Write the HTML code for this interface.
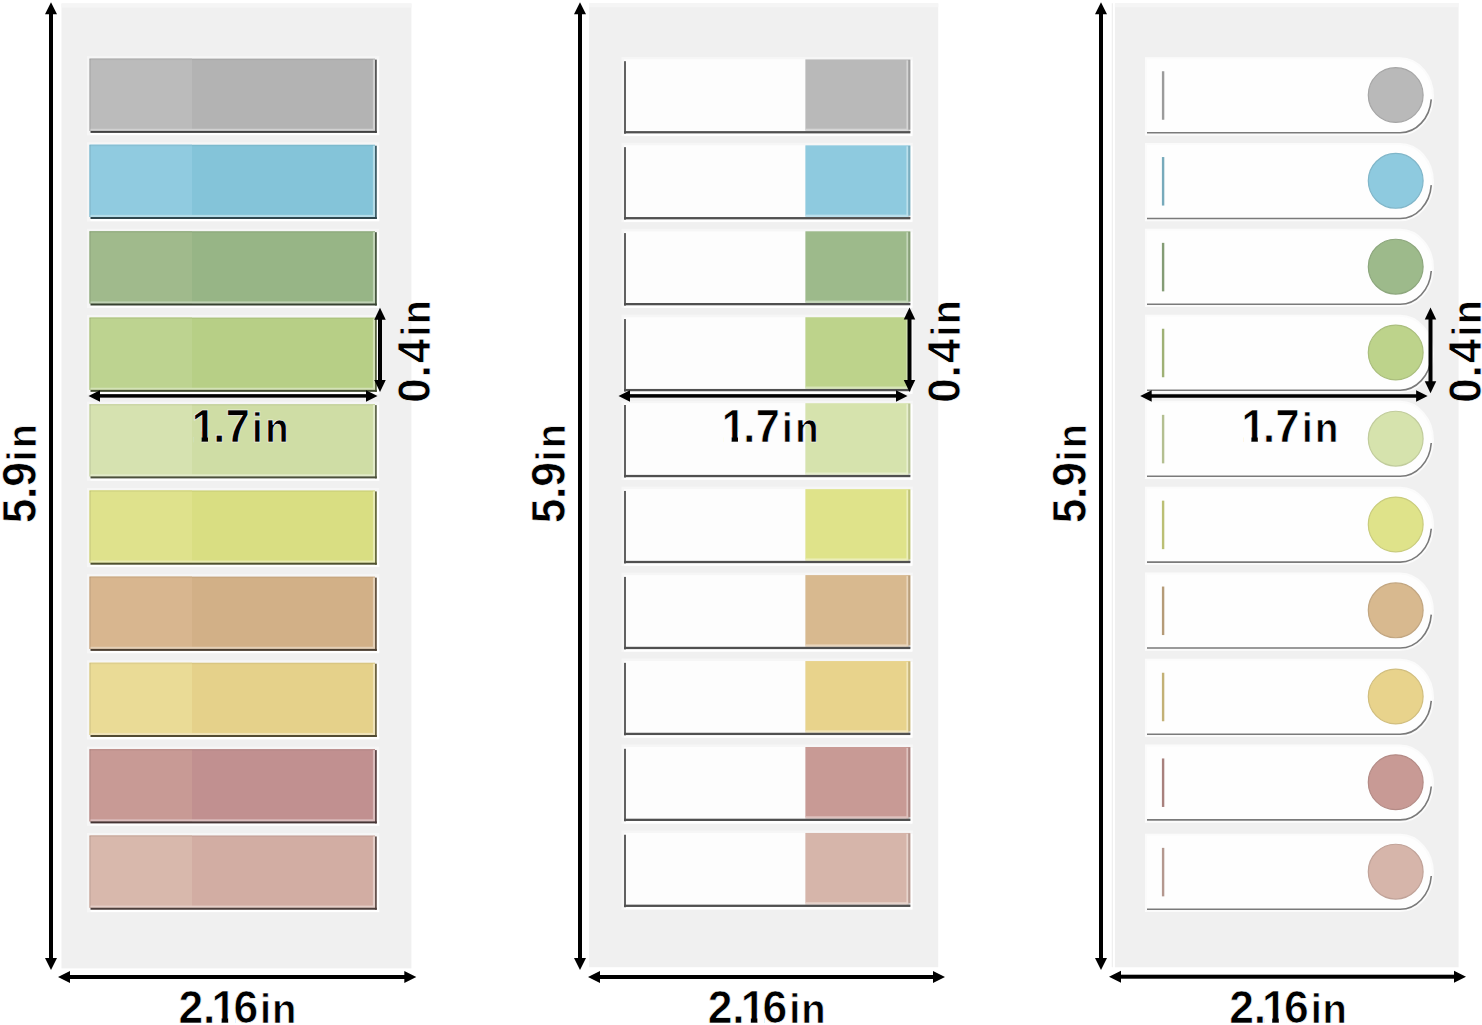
<!DOCTYPE html>
<html><head><meta charset="utf-8"><title>Sticky tabs dimensions</title>
<style>
html,body{margin:0;padding:0;background:#fff;}
body{width:1482px;height:1025px;overflow:hidden;}
svg{display:block;}
text{font-family:"Liberation Sans",Arial,sans-serif;font-weight:bold;fill:#000;stroke:#fff;stroke-width:0.7px;}
</style></head><body>
<svg width="1482" height="1025" viewBox="0 0 1482 1025">
<rect width="1482" height="1025" fill="#fff"/>

<rect x="61.5" y="3.5" width="349.90" height="964.90" fill="#f0f0f0"/>
<rect x="61.5" y="3.5" width="349.90" height="4" fill="#f5f5f5"/>
<rect x="589.0" y="3.2" width="349.20" height="964.00" fill="#f0f0f0"/>
<rect x="589.0" y="3.2" width="349.20" height="4" fill="#f5f5f5"/>
<rect x="1114.9" y="3.2" width="343.70" height="964.10" fill="#f0f0f0"/>
<rect x="1114.9" y="3.2" width="343.70" height="4" fill="#f5f5f5"/>
<rect x="1111.8" y="3.2" width="1" height="964" fill="#ebebeb"/>
<rect x="87.0" y="56.10" width="292.3" height="79.30" fill="#f6f6f6"/>
<rect x="90.5" y="131.90" width="288.8" height="3.2" fill="#fff"/>
<rect x="375.8" y="59.60" width="3.2" height="75.30" fill="#fff"/>
<rect x="89.5" y="58.60" width="285.50" height="72.30" fill="#b3b3b3"/>
<rect x="89.5" y="58.60" width="102.50" height="72.30" fill="#bbbbbb"/>
<rect x="89.5" y="58.60" width="285.50" height="1.5" fill="#000" fill-opacity="0.05"/>
<rect x="89.5" y="59.10" width="1.3" height="71.80" fill="#000" fill-opacity="0.08"/>
<rect x="372.90" y="59.60" width="2.1" height="72.30" fill="#d1d1d1"/>
<rect x="90.50" y="128.80" width="284.50" height="2.1" fill="#d1d1d1"/>
<rect x="375.00" y="59.60" width="1.8" height="73.30" fill="#565656"/>
<rect x="90.50" y="130.90" width="286.30" height="2" fill="#404040"/>
<rect x="87.0" y="142.20" width="292.3" height="79.30" fill="#f6f6f6"/>
<rect x="90.5" y="218.00" width="288.8" height="3.2" fill="#fff"/>
<rect x="375.8" y="145.70" width="3.2" height="75.30" fill="#fff"/>
<rect x="89.5" y="144.70" width="285.50" height="72.30" fill="#84c4d9"/>
<rect x="89.5" y="144.70" width="102.50" height="72.30" fill="#90cbe0"/>
<rect x="89.5" y="144.70" width="285.50" height="1.5" fill="#000" fill-opacity="0.05"/>
<rect x="89.5" y="145.20" width="1.3" height="71.80" fill="#000" fill-opacity="0.08"/>
<rect x="372.90" y="145.70" width="2.1" height="72.30" fill="#b5dce8"/>
<rect x="90.50" y="214.90" width="284.50" height="2.1" fill="#b5dce8"/>
<rect x="375.00" y="145.70" width="1.8" height="73.30" fill="#3f5e68"/>
<rect x="90.50" y="217.00" width="286.30" height="2" fill="#30474e"/>
<rect x="87.0" y="228.70" width="292.3" height="79.30" fill="#f6f6f6"/>
<rect x="90.5" y="304.50" width="288.8" height="3.2" fill="#fff"/>
<rect x="375.8" y="232.20" width="3.2" height="75.30" fill="#fff"/>
<rect x="89.5" y="231.20" width="285.50" height="72.30" fill="#97b586"/>
<rect x="89.5" y="231.20" width="102.50" height="72.30" fill="#a0ba8c"/>
<rect x="89.5" y="231.20" width="285.50" height="1.5" fill="#000" fill-opacity="0.05"/>
<rect x="89.5" y="231.70" width="1.3" height="71.80" fill="#000" fill-opacity="0.08"/>
<rect x="372.90" y="232.20" width="2.1" height="72.30" fill="#c1d3b6"/>
<rect x="90.50" y="301.40" width="284.50" height="2.1" fill="#c1d3b6"/>
<rect x="375.00" y="232.20" width="1.8" height="73.30" fill="#485740"/>
<rect x="90.50" y="303.50" width="286.30" height="2" fill="#364130"/>
<rect x="87.0" y="315.05" width="292.3" height="79.30" fill="#f6f6f6"/>
<rect x="90.5" y="390.85" width="288.8" height="3.2" fill="#fff"/>
<rect x="375.8" y="318.55" width="3.2" height="75.30" fill="#fff"/>
<rect x="89.5" y="317.55" width="285.50" height="72.30" fill="#b7cf86"/>
<rect x="89.5" y="317.55" width="102.50" height="72.30" fill="#bdd390"/>
<rect x="89.5" y="317.55" width="285.50" height="1.5" fill="#000" fill-opacity="0.05"/>
<rect x="89.5" y="318.05" width="1.3" height="71.80" fill="#000" fill-opacity="0.08"/>
<rect x="372.90" y="318.55" width="2.1" height="72.30" fill="#d4e2b6"/>
<rect x="90.50" y="387.75" width="284.50" height="2.1" fill="#d4e2b6"/>
<rect x="375.00" y="318.55" width="1.8" height="73.30" fill="#586340"/>
<rect x="90.50" y="389.85" width="286.30" height="2" fill="#424b30"/>
<rect x="87.0" y="401.60" width="292.3" height="79.30" fill="#f6f6f6"/>
<rect x="90.5" y="477.40" width="288.8" height="3.2" fill="#fff"/>
<rect x="375.8" y="405.10" width="3.2" height="75.30" fill="#fff"/>
<rect x="89.5" y="404.10" width="285.50" height="72.30" fill="#cfdda5"/>
<rect x="89.5" y="404.10" width="102.50" height="72.30" fill="#d6e2b0"/>
<rect x="89.5" y="404.10" width="285.50" height="1.5" fill="#000" fill-opacity="0.05"/>
<rect x="89.5" y="404.60" width="1.3" height="71.80" fill="#000" fill-opacity="0.08"/>
<rect x="372.90" y="405.10" width="2.1" height="72.30" fill="#e2ebc9"/>
<rect x="90.50" y="474.30" width="284.50" height="2.1" fill="#e2ebc9"/>
<rect x="375.00" y="405.10" width="1.8" height="73.30" fill="#636a4f"/>
<rect x="90.50" y="476.40" width="286.30" height="2" fill="#4b503b"/>
<rect x="87.0" y="487.90" width="292.3" height="79.30" fill="#f6f6f6"/>
<rect x="90.5" y="563.70" width="288.8" height="3.2" fill="#fff"/>
<rect x="375.8" y="491.40" width="3.2" height="75.30" fill="#fff"/>
<rect x="89.5" y="490.40" width="285.50" height="72.30" fill="#d9de82"/>
<rect x="89.5" y="490.40" width="102.50" height="72.30" fill="#dfe28c"/>
<rect x="89.5" y="490.40" width="285.50" height="1.5" fill="#000" fill-opacity="0.05"/>
<rect x="89.5" y="490.90" width="1.3" height="71.80" fill="#000" fill-opacity="0.08"/>
<rect x="372.90" y="491.40" width="2.1" height="72.30" fill="#e8ebb4"/>
<rect x="90.50" y="560.60" width="284.50" height="2.1" fill="#e8ebb4"/>
<rect x="375.00" y="491.40" width="1.8" height="73.30" fill="#686b3e"/>
<rect x="90.50" y="562.70" width="286.30" height="2" fill="#4e502f"/>
<rect x="87.0" y="574.10" width="292.3" height="79.30" fill="#f6f6f6"/>
<rect x="90.5" y="649.90" width="288.8" height="3.2" fill="#fff"/>
<rect x="375.8" y="577.60" width="3.2" height="75.30" fill="#fff"/>
<rect x="89.5" y="576.60" width="285.50" height="72.30" fill="#d2b087"/>
<rect x="89.5" y="576.60" width="102.50" height="72.30" fill="#d8b68f"/>
<rect x="89.5" y="576.60" width="285.50" height="1.5" fill="#000" fill-opacity="0.05"/>
<rect x="89.5" y="577.10" width="1.3" height="71.80" fill="#000" fill-opacity="0.08"/>
<rect x="372.90" y="577.60" width="2.1" height="72.30" fill="#e4d0b7"/>
<rect x="90.50" y="646.80" width="284.50" height="2.1" fill="#e4d0b7"/>
<rect x="375.00" y="577.60" width="1.8" height="73.30" fill="#655441"/>
<rect x="90.50" y="648.90" width="286.30" height="2" fill="#4c3f31"/>
<rect x="87.0" y="660.20" width="292.3" height="79.30" fill="#f6f6f6"/>
<rect x="90.5" y="736.00" width="288.8" height="3.2" fill="#fff"/>
<rect x="375.8" y="663.70" width="3.2" height="75.30" fill="#fff"/>
<rect x="89.5" y="662.70" width="285.50" height="72.30" fill="#e5d18a"/>
<rect x="89.5" y="662.70" width="102.50" height="72.30" fill="#eadb96"/>
<rect x="89.5" y="662.70" width="285.50" height="1.5" fill="#000" fill-opacity="0.05"/>
<rect x="89.5" y="663.20" width="1.3" height="71.80" fill="#000" fill-opacity="0.08"/>
<rect x="372.90" y="663.70" width="2.1" height="72.30" fill="#efe3b9"/>
<rect x="90.50" y="732.90" width="284.50" height="2.1" fill="#efe3b9"/>
<rect x="375.00" y="663.70" width="1.8" height="73.30" fill="#6e6442"/>
<rect x="90.50" y="735.00" width="286.30" height="2" fill="#524b32"/>
<rect x="87.0" y="746.60" width="292.3" height="79.30" fill="#f6f6f6"/>
<rect x="90.5" y="822.40" width="288.8" height="3.2" fill="#fff"/>
<rect x="375.8" y="750.10" width="3.2" height="75.30" fill="#fff"/>
<rect x="89.5" y="749.10" width="285.50" height="72.30" fill="#c19090"/>
<rect x="89.5" y="749.10" width="102.50" height="72.30" fill="#c89a95"/>
<rect x="89.5" y="749.10" width="285.50" height="1.5" fill="#000" fill-opacity="0.05"/>
<rect x="89.5" y="749.60" width="1.3" height="71.80" fill="#000" fill-opacity="0.08"/>
<rect x="372.90" y="750.10" width="2.1" height="72.30" fill="#dabcbc"/>
<rect x="90.50" y="819.30" width="284.50" height="2.1" fill="#dabcbc"/>
<rect x="375.00" y="750.10" width="1.8" height="73.30" fill="#5d4545"/>
<rect x="90.50" y="821.40" width="286.30" height="2" fill="#453434"/>
<rect x="87.0" y="832.95" width="292.3" height="79.30" fill="#f6f6f6"/>
<rect x="90.5" y="908.75" width="288.8" height="3.2" fill="#fff"/>
<rect x="375.8" y="836.45" width="3.2" height="75.30" fill="#fff"/>
<rect x="89.5" y="835.45" width="285.50" height="72.30" fill="#d2ada3"/>
<rect x="89.5" y="835.45" width="102.50" height="72.30" fill="#d8b8ac"/>
<rect x="89.5" y="835.45" width="285.50" height="1.5" fill="#000" fill-opacity="0.05"/>
<rect x="89.5" y="835.95" width="1.3" height="71.80" fill="#000" fill-opacity="0.08"/>
<rect x="372.90" y="836.45" width="2.1" height="72.30" fill="#e4cec8"/>
<rect x="90.50" y="905.65" width="284.50" height="2.1" fill="#e4cec8"/>
<rect x="375.00" y="836.45" width="1.8" height="73.30" fill="#65534e"/>
<rect x="90.50" y="907.75" width="286.30" height="2" fill="#4c3e3b"/>
<rect x="621.5" y="56.90" width="291.4" height="79.30" fill="#f6f6f6"/>
<rect x="624.0" y="132.70" width="287.9" height="3.2" fill="#fff"/>
<rect x="909.4" y="60.40" width="3" height="75.30" fill="#fff"/>
<rect x="624.0" y="59.40" width="181.40" height="73.30" fill="#fdfdfd"/>
<rect x="805.4" y="59.40" width="105.00" height="70.30" fill="#b9b9b9"/>
<rect x="906.40" y="60.40" width="1.8" height="71.30" fill="#d5d5d5"/>
<rect x="805.40" y="128.70" width="103.00" height="2.4" fill="#d5d5d5"/>
<rect x="908.20" y="59.90" width="2.2" height="72.30" fill="#000" fill-opacity="0.14"/>
<rect x="624.0" y="61.20" width="2" height="72.50" fill="#626262"/>
<rect x="624.0" y="131.10" width="286.40" height="2.3" fill="#505050"/>
<rect x="621.5" y="142.85" width="291.4" height="79.30" fill="#f6f6f6"/>
<rect x="624.0" y="218.65" width="287.9" height="3.2" fill="#fff"/>
<rect x="909.4" y="146.35" width="3" height="75.30" fill="#fff"/>
<rect x="624.0" y="145.35" width="181.40" height="73.30" fill="#fdfdfd"/>
<rect x="805.4" y="145.35" width="105.00" height="70.30" fill="#8ecadf"/>
<rect x="906.40" y="146.35" width="1.8" height="71.30" fill="#bbdfec"/>
<rect x="805.40" y="214.65" width="103.00" height="2.4" fill="#bbdfec"/>
<rect x="908.20" y="145.85" width="2.2" height="72.30" fill="#000" fill-opacity="0.14"/>
<rect x="624.0" y="147.15" width="2" height="72.50" fill="#626262"/>
<rect x="624.0" y="217.05" width="286.40" height="2.3" fill="#505050"/>
<rect x="621.5" y="228.80" width="291.4" height="79.30" fill="#f6f6f6"/>
<rect x="624.0" y="304.60" width="287.9" height="3.2" fill="#fff"/>
<rect x="909.4" y="232.30" width="3" height="75.30" fill="#fff"/>
<rect x="624.0" y="231.30" width="181.40" height="73.30" fill="#fdfdfd"/>
<rect x="805.4" y="231.30" width="105.00" height="70.30" fill="#9dba8b"/>
<rect x="906.40" y="232.30" width="1.8" height="71.30" fill="#c4d6b9"/>
<rect x="805.40" y="300.60" width="103.00" height="2.4" fill="#c4d6b9"/>
<rect x="908.20" y="231.80" width="2.2" height="72.30" fill="#000" fill-opacity="0.14"/>
<rect x="624.0" y="233.10" width="2" height="72.50" fill="#626262"/>
<rect x="624.0" y="303.00" width="286.40" height="2.3" fill="#505050"/>
<rect x="621.5" y="314.75" width="291.4" height="79.30" fill="#f6f6f6"/>
<rect x="624.0" y="390.55" width="287.9" height="3.2" fill="#fff"/>
<rect x="909.4" y="318.25" width="3" height="75.30" fill="#fff"/>
<rect x="624.0" y="317.25" width="181.40" height="73.30" fill="#fdfdfd"/>
<rect x="805.4" y="317.25" width="105.00" height="70.30" fill="#bdd38b"/>
<rect x="906.40" y="318.25" width="1.8" height="71.30" fill="#d7e5b9"/>
<rect x="805.40" y="386.55" width="103.00" height="2.4" fill="#d7e5b9"/>
<rect x="908.20" y="317.75" width="2.2" height="72.30" fill="#000" fill-opacity="0.14"/>
<rect x="624.0" y="319.05" width="2" height="72.50" fill="#626262"/>
<rect x="624.0" y="388.95" width="286.40" height="2.3" fill="#505050"/>
<rect x="621.5" y="400.70" width="291.4" height="79.30" fill="#f6f6f6"/>
<rect x="624.0" y="476.50" width="287.9" height="3.2" fill="#fff"/>
<rect x="909.4" y="404.20" width="3" height="75.30" fill="#fff"/>
<rect x="624.0" y="403.20" width="181.40" height="73.30" fill="#fdfdfd"/>
<rect x="805.4" y="403.20" width="105.00" height="70.30" fill="#d6e3ad"/>
<rect x="906.40" y="404.20" width="1.8" height="71.30" fill="#e6eece"/>
<rect x="805.40" y="472.50" width="103.00" height="2.4" fill="#e6eece"/>
<rect x="908.20" y="403.70" width="2.2" height="72.30" fill="#000" fill-opacity="0.14"/>
<rect x="624.0" y="405.00" width="2" height="72.50" fill="#626262"/>
<rect x="624.0" y="474.90" width="286.40" height="2.3" fill="#505050"/>
<rect x="621.5" y="486.65" width="291.4" height="79.30" fill="#f6f6f6"/>
<rect x="624.0" y="562.45" width="287.9" height="3.2" fill="#fff"/>
<rect x="909.4" y="490.15" width="3" height="75.30" fill="#fff"/>
<rect x="624.0" y="489.15" width="181.40" height="73.30" fill="#fdfdfd"/>
<rect x="805.4" y="489.15" width="105.00" height="70.30" fill="#dfe38a"/>
<rect x="906.40" y="490.15" width="1.8" height="71.30" fill="#eceeb9"/>
<rect x="805.40" y="558.45" width="103.00" height="2.4" fill="#eceeb9"/>
<rect x="908.20" y="489.65" width="2.2" height="72.30" fill="#000" fill-opacity="0.14"/>
<rect x="624.0" y="490.95" width="2" height="72.50" fill="#626262"/>
<rect x="624.0" y="560.85" width="286.40" height="2.3" fill="#505050"/>
<rect x="621.5" y="572.60" width="291.4" height="79.30" fill="#f6f6f6"/>
<rect x="624.0" y="648.40" width="287.9" height="3.2" fill="#fff"/>
<rect x="909.4" y="576.10" width="3" height="75.30" fill="#fff"/>
<rect x="624.0" y="575.10" width="181.40" height="73.30" fill="#fdfdfd"/>
<rect x="805.4" y="575.10" width="105.00" height="70.30" fill="#d8b98f"/>
<rect x="906.40" y="576.10" width="1.8" height="71.30" fill="#e8d5bc"/>
<rect x="805.40" y="644.40" width="103.00" height="2.4" fill="#e8d5bc"/>
<rect x="908.20" y="575.60" width="2.2" height="72.30" fill="#000" fill-opacity="0.14"/>
<rect x="624.0" y="576.90" width="2" height="72.50" fill="#626262"/>
<rect x="624.0" y="646.80" width="286.40" height="2.3" fill="#505050"/>
<rect x="621.5" y="658.55" width="291.4" height="79.30" fill="#f6f6f6"/>
<rect x="624.0" y="734.35" width="287.9" height="3.2" fill="#fff"/>
<rect x="909.4" y="662.05" width="3" height="75.30" fill="#fff"/>
<rect x="624.0" y="661.05" width="181.40" height="73.30" fill="#fdfdfd"/>
<rect x="805.4" y="661.05" width="105.00" height="70.30" fill="#e8d38c"/>
<rect x="906.40" y="662.05" width="1.8" height="71.30" fill="#f1e5ba"/>
<rect x="805.40" y="730.35" width="103.00" height="2.4" fill="#f1e5ba"/>
<rect x="908.20" y="661.55" width="2.2" height="72.30" fill="#000" fill-opacity="0.14"/>
<rect x="624.0" y="662.85" width="2" height="72.50" fill="#626262"/>
<rect x="624.0" y="732.75" width="286.40" height="2.3" fill="#505050"/>
<rect x="621.5" y="744.50" width="291.4" height="79.30" fill="#f6f6f6"/>
<rect x="624.0" y="820.30" width="287.9" height="3.2" fill="#fff"/>
<rect x="909.4" y="748.00" width="3" height="75.30" fill="#fff"/>
<rect x="624.0" y="747.00" width="181.40" height="73.30" fill="#fdfdfd"/>
<rect x="805.4" y="747.00" width="105.00" height="70.30" fill="#c89a95"/>
<rect x="906.40" y="748.00" width="1.8" height="71.30" fill="#dec2bf"/>
<rect x="805.40" y="816.30" width="103.00" height="2.4" fill="#dec2bf"/>
<rect x="908.20" y="747.50" width="2.2" height="72.30" fill="#000" fill-opacity="0.14"/>
<rect x="624.0" y="748.80" width="2" height="72.50" fill="#626262"/>
<rect x="624.0" y="818.70" width="286.40" height="2.3" fill="#505050"/>
<rect x="621.5" y="830.45" width="291.4" height="79.30" fill="#f6f6f6"/>
<rect x="624.0" y="906.25" width="287.9" height="3.2" fill="#fff"/>
<rect x="909.4" y="833.95" width="3" height="75.30" fill="#fff"/>
<rect x="624.0" y="832.95" width="181.40" height="73.30" fill="#fdfdfd"/>
<rect x="805.4" y="832.95" width="105.00" height="70.30" fill="#d6b5aa"/>
<rect x="906.40" y="833.95" width="1.8" height="71.30" fill="#e6d3cc"/>
<rect x="805.40" y="902.25" width="103.00" height="2.4" fill="#e6d3cc"/>
<rect x="908.20" y="833.45" width="2.2" height="72.30" fill="#000" fill-opacity="0.14"/>
<rect x="624.0" y="834.75" width="2" height="72.50" fill="#626262"/>
<rect x="624.0" y="904.65" width="286.40" height="2.3" fill="#505050"/>
<path d="M1147.0 59.25H1400.00A32.0 37.1 0 0 1 1400.00 133.45H1147.0Z" fill="#fcfcfc" stroke="#fbfbfb" stroke-width="4"/>
<path d="M1147.0 59.25H1400.00A32.0 37.1 0 0 1 1400.00 133.45H1147.0Z" fill="#fefefe"/>
<path d="M1147.0 132.70H1400.00A31.25 36.35 0 0 0 1431.25 99.35" fill="none" stroke="#7a7a7a" stroke-width="1.6"/>
<rect x="1161.9" y="71.25" width="2.4" height="48.5" fill="#9b9b9b"/>
<circle cx="1395.7" cy="95.05" r="27.4" fill="#b9b9b9" stroke="#a6a6a6" stroke-width="1.2"/>
<path d="M1147.0 145.05H1400.00A32.0 37.1 0 0 1 1400.00 219.25H1147.0Z" fill="#fcfcfc" stroke="#fbfbfb" stroke-width="4"/>
<path d="M1147.0 145.05H1400.00A32.0 37.1 0 0 1 1400.00 219.25H1147.0Z" fill="#fefefe"/>
<path d="M1147.0 218.50H1400.00A31.25 36.35 0 0 0 1431.25 185.15" fill="none" stroke="#7a7a7a" stroke-width="1.6"/>
<rect x="1161.9" y="157.05" width="2.4" height="48.5" fill="#77aabb"/>
<circle cx="1395.7" cy="180.85" r="27.4" fill="#8ecadf" stroke="#80b6c9" stroke-width="1.2"/>
<path d="M1147.0 230.85H1400.00A32.0 37.1 0 0 1 1400.00 305.05H1147.0Z" fill="#fcfcfc" stroke="#fbfbfb" stroke-width="4"/>
<path d="M1147.0 230.85H1400.00A32.0 37.1 0 0 1 1400.00 305.05H1147.0Z" fill="#fefefe"/>
<path d="M1147.0 304.30H1400.00A31.25 36.35 0 0 0 1431.25 270.95" fill="none" stroke="#7a7a7a" stroke-width="1.6"/>
<rect x="1161.9" y="242.85" width="2.4" height="48.5" fill="#849c75"/>
<circle cx="1395.7" cy="266.65" r="27.4" fill="#9dba8b" stroke="#8da77d" stroke-width="1.2"/>
<path d="M1147.0 316.75H1400.00A32.0 37.1 0 0 1 1400.00 390.95H1147.0Z" fill="#fcfcfc" stroke="#fbfbfb" stroke-width="4"/>
<path d="M1147.0 316.75H1400.00A32.0 37.1 0 0 1 1400.00 390.95H1147.0Z" fill="#fefefe"/>
<path d="M1147.0 390.20H1400.00A31.25 36.35 0 0 0 1431.25 356.85" fill="none" stroke="#7a7a7a" stroke-width="1.6"/>
<rect x="1161.9" y="328.75" width="2.4" height="48.5" fill="#9fb175"/>
<circle cx="1395.7" cy="352.55" r="27.4" fill="#bdd38b" stroke="#aabe7d" stroke-width="1.2"/>
<path d="M1147.0 402.85H1400.00A32.0 37.1 0 0 1 1400.00 477.05H1147.0Z" fill="#fcfcfc" stroke="#fbfbfb" stroke-width="4"/>
<path d="M1147.0 402.85H1400.00A32.0 37.1 0 0 1 1400.00 477.05H1147.0Z" fill="#fefefe"/>
<path d="M1147.0 476.30H1400.00A31.25 36.35 0 0 0 1431.25 442.95" fill="none" stroke="#7a7a7a" stroke-width="1.6"/>
<rect x="1161.9" y="414.85" width="2.4" height="48.5" fill="#b4bf91"/>
<circle cx="1395.7" cy="438.65" r="27.4" fill="#d6e3ad" stroke="#c1cc9c" stroke-width="1.2"/>
<path d="M1147.0 488.65H1400.00A32.0 37.1 0 0 1 1400.00 562.85H1147.0Z" fill="#fcfcfc" stroke="#fbfbfb" stroke-width="4"/>
<path d="M1147.0 488.65H1400.00A32.0 37.1 0 0 1 1400.00 562.85H1147.0Z" fill="#fefefe"/>
<path d="M1147.0 562.10H1400.00A31.25 36.35 0 0 0 1431.25 528.75" fill="none" stroke="#7a7a7a" stroke-width="1.6"/>
<rect x="1161.9" y="500.65" width="2.4" height="48.5" fill="#bbbf74"/>
<circle cx="1395.7" cy="524.45" r="27.4" fill="#dfe38a" stroke="#c9cc7c" stroke-width="1.2"/>
<path d="M1147.0 574.55H1400.00A32.0 37.1 0 0 1 1400.00 648.75H1147.0Z" fill="#fcfcfc" stroke="#fbfbfb" stroke-width="4"/>
<path d="M1147.0 574.55H1400.00A32.0 37.1 0 0 1 1400.00 648.75H1147.0Z" fill="#fefefe"/>
<path d="M1147.0 648.00H1400.00A31.25 36.35 0 0 0 1431.25 614.65" fill="none" stroke="#7a7a7a" stroke-width="1.6"/>
<rect x="1161.9" y="586.55" width="2.4" height="48.5" fill="#b59b78"/>
<circle cx="1395.7" cy="610.35" r="27.4" fill="#d8b98f" stroke="#c2a681" stroke-width="1.2"/>
<path d="M1147.0 660.75H1400.00A32.0 37.1 0 0 1 1400.00 734.95H1147.0Z" fill="#fcfcfc" stroke="#fbfbfb" stroke-width="4"/>
<path d="M1147.0 660.75H1400.00A32.0 37.1 0 0 1 1400.00 734.95H1147.0Z" fill="#fefefe"/>
<path d="M1147.0 734.20H1400.00A31.25 36.35 0 0 0 1431.25 700.85" fill="none" stroke="#7a7a7a" stroke-width="1.6"/>
<rect x="1161.9" y="672.75" width="2.4" height="48.5" fill="#c3b176"/>
<circle cx="1395.7" cy="696.55" r="27.4" fill="#e8d38c" stroke="#d1be7e" stroke-width="1.2"/>
<path d="M1147.0 746.45H1400.00A32.0 37.1 0 0 1 1400.00 820.65H1147.0Z" fill="#fcfcfc" stroke="#fbfbfb" stroke-width="4"/>
<path d="M1147.0 746.45H1400.00A32.0 37.1 0 0 1 1400.00 820.65H1147.0Z" fill="#fefefe"/>
<path d="M1147.0 819.90H1400.00A31.25 36.35 0 0 0 1431.25 786.55" fill="none" stroke="#7a7a7a" stroke-width="1.6"/>
<rect x="1161.9" y="758.45" width="2.4" height="48.5" fill="#a8817d"/>
<circle cx="1395.7" cy="782.25" r="27.4" fill="#c89a95" stroke="#b48b86" stroke-width="1.2"/>
<path d="M1147.0 835.85H1400.00A32.0 37.1 0 0 1 1400.00 910.05H1147.0Z" fill="#fcfcfc" stroke="#fbfbfb" stroke-width="4"/>
<path d="M1147.0 835.85H1400.00A32.0 37.1 0 0 1 1400.00 910.05H1147.0Z" fill="#fefefe"/>
<path d="M1147.0 909.30H1400.00A31.25 36.35 0 0 0 1431.25 875.95" fill="none" stroke="#7a7a7a" stroke-width="1.6"/>
<rect x="1161.9" y="847.85" width="2.4" height="48.5" fill="#b4988f"/>
<circle cx="1395.7" cy="871.65" r="27.4" fill="#d6b5aa" stroke="#c1a399" stroke-width="1.2"/>
<g fill="#000" stroke="#fff" stroke-width="0">
<rect x="49.00" y="13.30" width="4" height="945.70"/><path d="M51.00 2.30L57.00 14.30L45.00 14.30Z"/><path d="M51.00 970.00L57.00 958.00L45.00 958.00Z"/>
<rect x="69.00" y="975.00" width="336.30" height="4"/><path d="M58.00 977.00L70.00 971.00L70.00 983.00Z"/><path d="M416.30 977.00L404.30 971.00L404.30 983.00Z"/>
<rect x="578.00" y="13.30" width="4" height="945.70"/><path d="M580.00 2.30L586.00 14.30L574.00 14.30Z"/><path d="M580.00 970.00L586.00 958.00L574.00 958.00Z"/>
<rect x="599.00" y="975.00" width="335.00" height="4"/><path d="M588.00 977.00L600.00 971.00L600.00 983.00Z"/><path d="M945.00 977.00L933.00 971.00L933.00 983.00Z"/>
<rect x="1099.00" y="13.30" width="4" height="945.70"/><path d="M1101.00 2.30L1107.00 14.30L1095.00 14.30Z"/><path d="M1101.00 970.00L1107.00 958.00L1095.00 958.00Z"/>
<rect x="1120.00" y="974.70" width="335.00" height="4"/><path d="M1109.00 976.70L1121.00 970.70L1121.00 982.70Z"/><path d="M1466.00 976.70L1454.00 970.70L1454.00 982.70Z"/>
<rect x="378.00" y="318.70" width="4" height="62.40"/><path d="M380.00 307.70L385.75 319.70L374.25 319.70Z"/><path d="M380.00 392.10L385.75 380.10L374.25 380.10Z"/>
<rect x="99.00" y="394.15" width="268.00" height="3.5"/><path d="M88.50 395.90L100.00 390.15L100.00 401.65Z"/><path d="M377.50 395.90L366.00 390.15L366.00 401.65Z"/>
<rect x="907.50" y="318.50" width="4" height="62.60"/><path d="M909.50 307.50L915.25 319.50L903.75 319.50Z"/><path d="M909.50 392.10L915.25 380.10L903.75 380.10Z"/>
<rect x="629.00" y="394.15" width="268.00" height="3.5"/><path d="M618.50 395.90L630.00 390.15L630.00 401.65Z"/><path d="M907.50 395.90L896.00 390.15L896.00 401.65Z"/>
<rect x="1428.50" y="318.50" width="4" height="63.70"/><path d="M1430.50 307.50L1436.25 319.50L1424.75 319.50Z"/><path d="M1430.50 393.20L1436.25 381.20L1424.75 381.20Z"/>
<rect x="1150.70" y="394.25" width="266.40" height="3.5"/><path d="M1140.20 396.00L1151.70 390.25L1151.70 401.75Z"/><path d="M1427.60 396.00L1416.10 390.25L1416.10 401.75Z"/>
</g>
<clipPath id="c1" clipPathUnits="userSpaceOnUse"><rect x="-500" y="-200" width="539.48" height="400"/><rect x="62.17" y="-200" width="1000" height="400"/><rect x="-500" y="-200" width="1500" height="190.05"/><rect x="47.75" y="-200" width="6.79" height="400"/></clipPath><text transform="translate(175.80 1023.0) scale(0.96 1)" y="0" font-size="46.3" clip-path="url(#c1)"><tspan x="2.87 28.38 37.16 60.03">2.16</tspan><tspan x="87.80 100.16" font-size="41.5">in</tspan></text>
<clipPath id="c2" clipPathUnits="userSpaceOnUse"><rect x="-500" y="-200" width="539.48" height="400"/><rect x="62.17" y="-200" width="1000" height="400"/><rect x="-500" y="-200" width="1500" height="190.05"/><rect x="47.75" y="-200" width="6.79" height="400"/></clipPath><text transform="translate(705.00 1023.0) scale(0.96 1)" y="0" font-size="46.3" clip-path="url(#c2)"><tspan x="2.87 28.38 37.16 60.03">2.16</tspan><tspan x="87.80 100.16" font-size="41.5">in</tspan></text>
<clipPath id="c3" clipPathUnits="userSpaceOnUse"><rect x="-500" y="-200" width="539.48" height="400"/><rect x="62.17" y="-200" width="1000" height="400"/><rect x="-500" y="-200" width="1500" height="190.05"/><rect x="47.75" y="-200" width="6.79" height="400"/></clipPath><text transform="translate(1226.40 1023.0) scale(0.96 1)" y="0" font-size="46.3" clip-path="url(#c3)"><tspan x="2.87 28.38 37.16 60.03">2.16</tspan><tspan x="87.80 100.16" font-size="41.5">in</tspan></text>
<clipPath id="c4" clipPathUnits="userSpaceOnUse"><rect x="-500" y="-200" width="504.46" height="400"/><rect x="27.49" y="-200" width="1000" height="400"/><rect x="-500" y="-200" width="1500" height="189.90"/><rect x="12.86" y="-200" width="6.89" height="400"/></clipPath><text transform="translate(189.80 441.9) scale(0.92 1)" y="0" font-size="47.0" clip-path="url(#c4)"><tspan x="2.11 25.56 39.13">1.7</tspan><tspan x="67.73 82.03" font-size="41.5">in</tspan></text>
<clipPath id="c5" clipPathUnits="userSpaceOnUse"><rect x="-500" y="-200" width="504.46" height="400"/><rect x="27.49" y="-200" width="1000" height="400"/><rect x="-500" y="-200" width="1500" height="189.90"/><rect x="12.86" y="-200" width="6.89" height="400"/></clipPath><text transform="translate(719.80 441.9) scale(0.92 1)" y="0" font-size="47.0" clip-path="url(#c5)"><tspan x="2.11 25.56 39.13">1.7</tspan><tspan x="67.73 82.03" font-size="41.5">in</tspan></text>
<clipPath id="c6" clipPathUnits="userSpaceOnUse"><rect x="-500" y="-200" width="504.46" height="400"/><rect x="27.49" y="-200" width="1000" height="400"/><rect x="-500" y="-200" width="1500" height="189.90"/><rect x="12.86" y="-200" width="6.89" height="400"/></clipPath><text transform="translate(1239.60 441.9) scale(0.92 1)" y="0" font-size="47.0" clip-path="url(#c6)"><tspan x="2.11 25.56 39.13">1.7</tspan><tspan x="67.73 82.03" font-size="41.5">in</tspan></text>
<text transform="translate(35.5 525.85) rotate(-90) scale(0.94 1)" y="0" font-size="47.2"><tspan x="2.76 28.47 41.61">5.9</tspan><tspan x="68.83 82.72" font-size="41.5">in</tspan></text>
<text transform="translate(564.8 525.85) rotate(-90) scale(0.94 1)" y="0" font-size="47.2"><tspan x="2.76 28.47 41.61">5.9</tspan><tspan x="68.83 82.72" font-size="41.5">in</tspan></text>
<text transform="translate(1085.7 525.85) rotate(-90) scale(0.94 1)" y="0" font-size="47.2"><tspan x="2.76 28.47 41.61">5.9</tspan><tspan x="68.83 82.72" font-size="41.5">in</tspan></text>
<text transform="translate(430.2 405.50) rotate(-90) scale(0.95 1)" y="0" font-size="46.3"><tspan x="2.95 29.70 44.48">0.4</tspan><tspan x="72.54 85.92" font-size="41">in</tspan></text>
<text transform="translate(960.2 405.50) rotate(-90) scale(0.95 1)" y="0" font-size="46.3"><tspan x="2.95 29.70 44.48">0.4</tspan><tspan x="72.54 85.92" font-size="41">in</tspan></text>
<text transform="translate(1480.6 405.50) rotate(-90) scale(0.95 1)" y="0" font-size="46.3"><tspan x="2.95 29.70 44.48">0.4</tspan><tspan x="72.54 85.92" font-size="41">in</tspan></text>
</svg>
</body></html>
